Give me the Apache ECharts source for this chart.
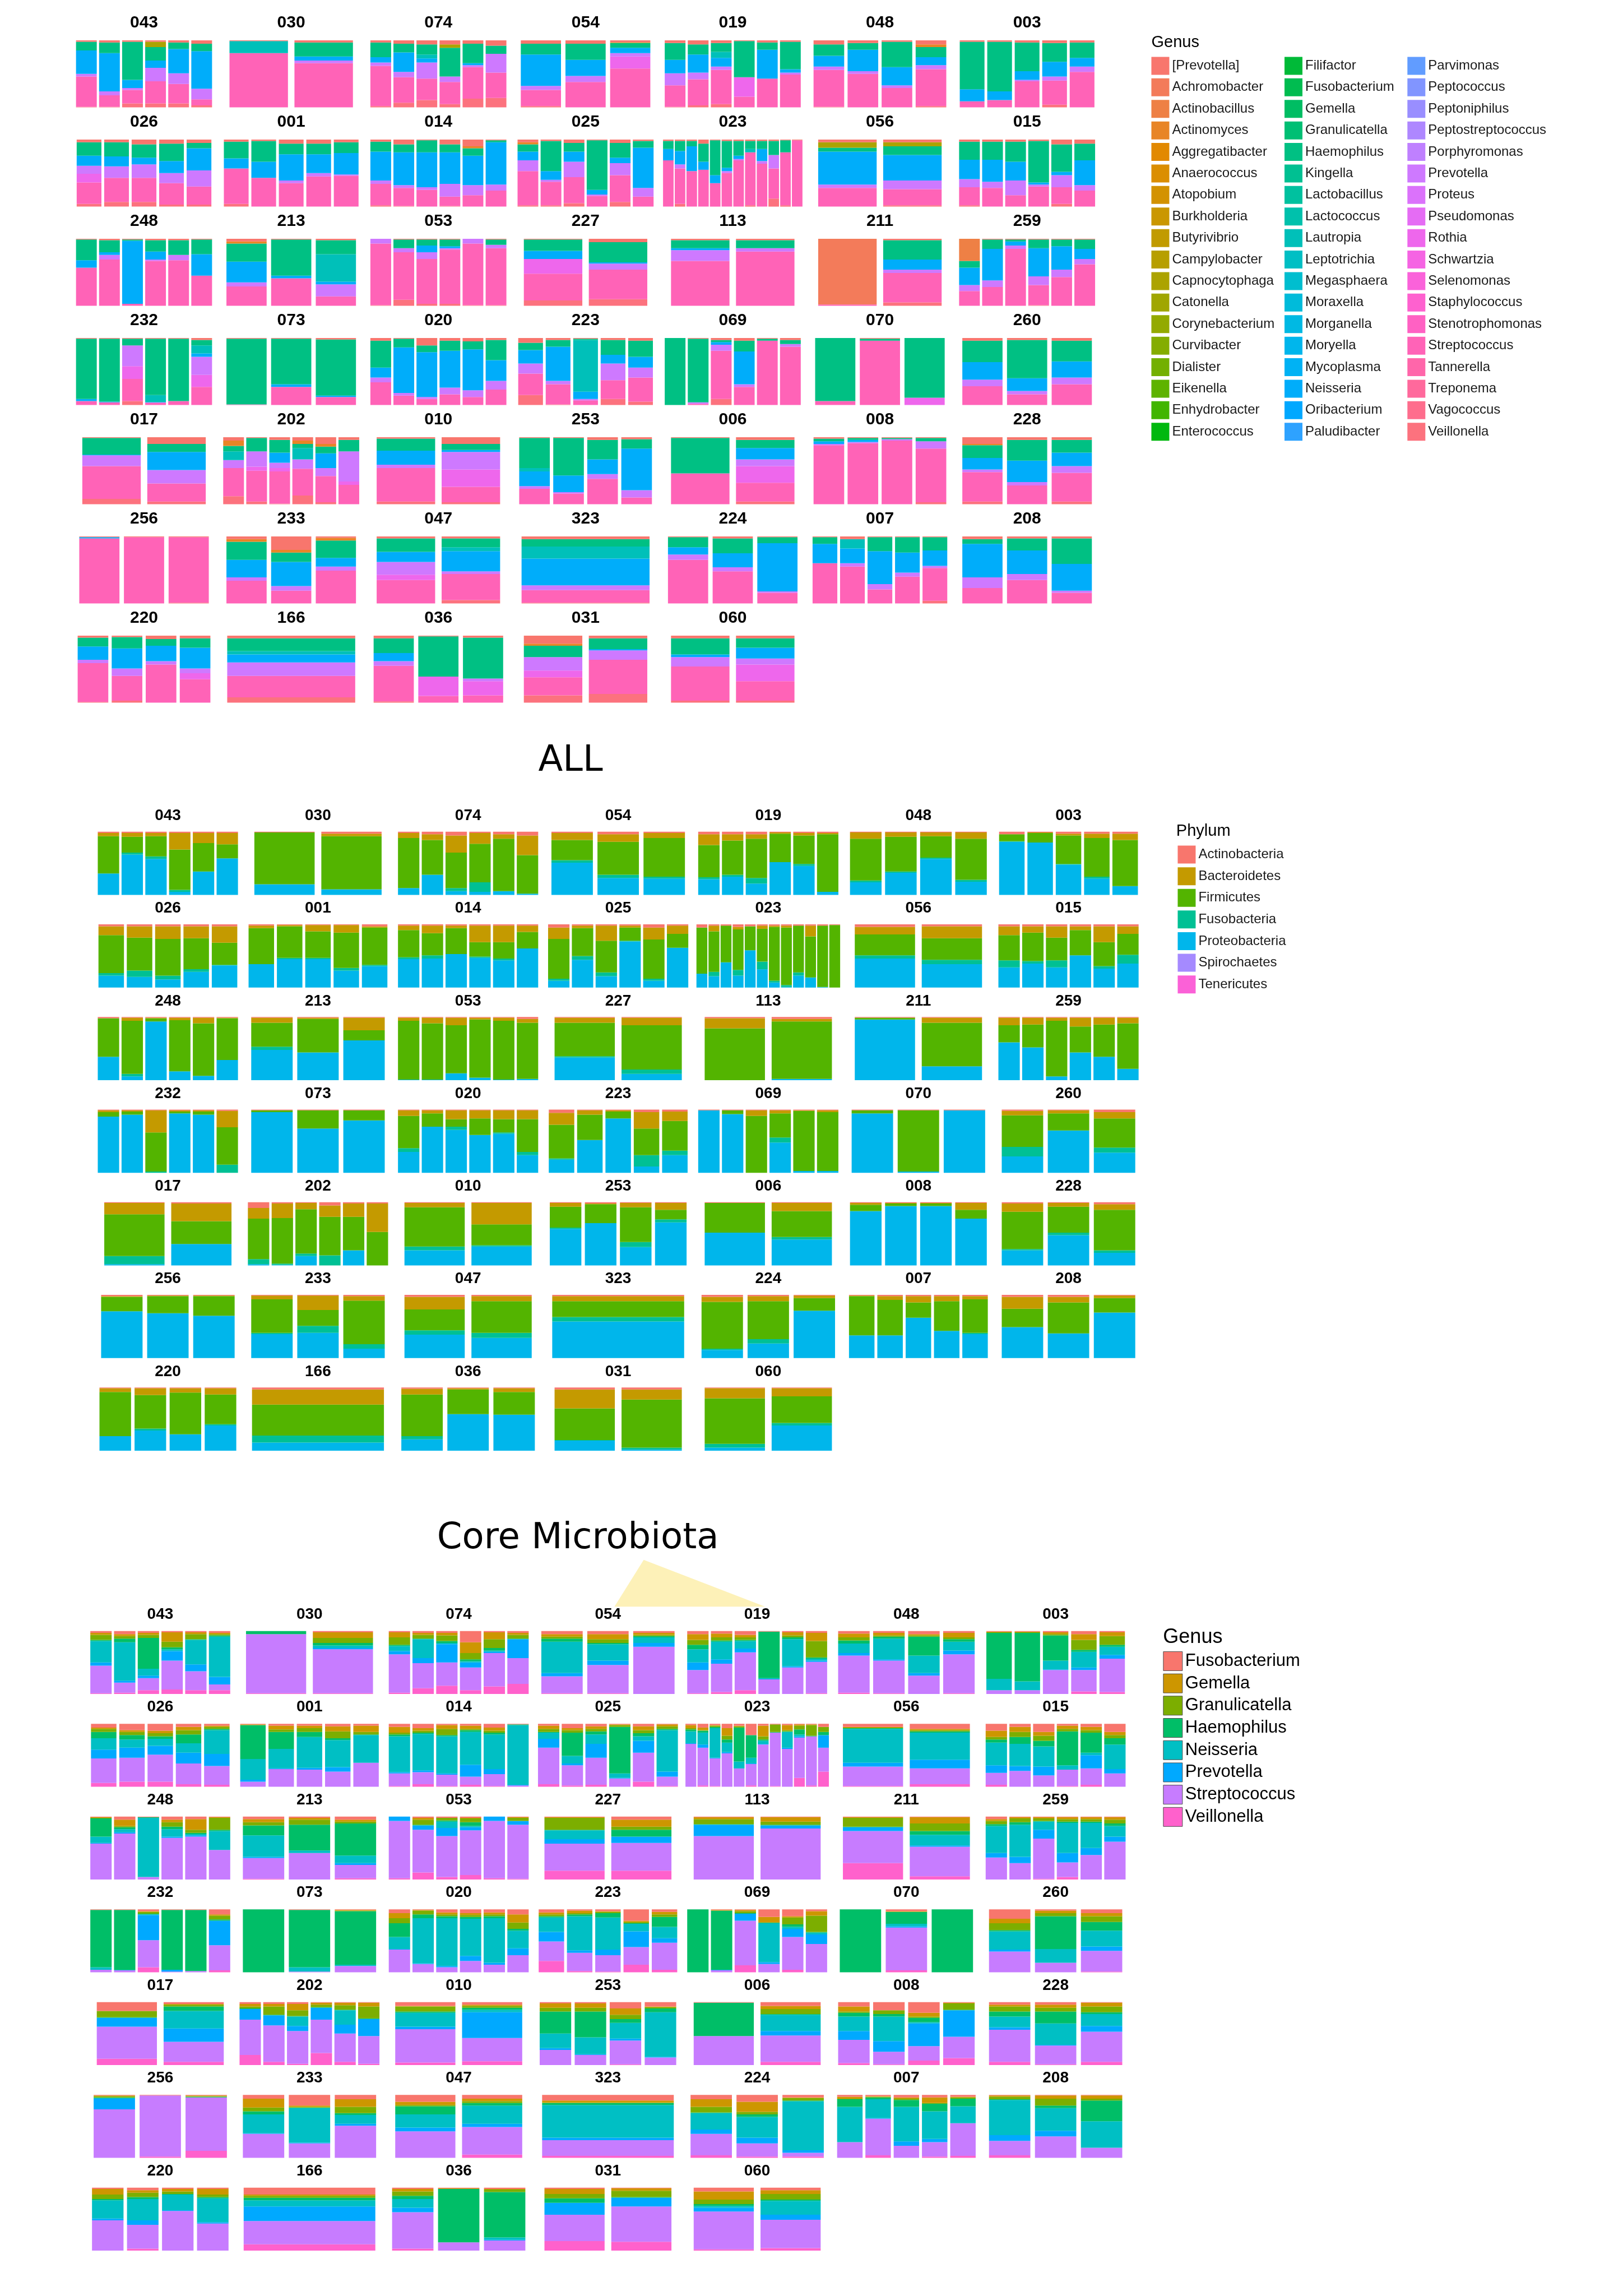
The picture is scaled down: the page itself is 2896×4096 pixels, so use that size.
<!DOCTYPE html>
<html><head><meta charset="utf-8">
<script src="https://cdn.jsdelivr.net/npm/echarts@6/dist/echarts.min.js"></script>
<style>html,body{margin:0;padding:0;background:#fff}#c{width:2896px;height:4096px}</style>
</head><body><div id="c"></div>
<script>
// ---------------- DATA ----------------
const FACETS = ['043','030','074','054','019','048','003','026','001','014','025','023','056','015','248','213','053','227','113','211','259','232','073','020','223','069','070','260','017','202','010','253','006','008','228','256','233','047','323','224','007','208','220','166','036','031','060'];

const GENERA = ['[Prevotella]','Achromobacter','Actinobacillus','Actinomyces','Aggregatibacter','Anaerococcus','Atopobium','Burkholderia','Butyrivibrio','Campylobacter','Capnocytophaga','Catonella','Corynebacterium','Curvibacter','Dialister','Eikenella','Enhydrobacter','Enterococcus','Filifactor','Fusobacterium','Gemella','Granulicatella','Haemophilus','Kingella','Lactobacillus','Lactococcus','Lautropia','Leptotrichia','Megasphaera','Moraxella','Morganella','Moryella','Mycoplasma','Neisseria','Oribacterium','Paludibacter','Parvimonas','Peptococcus','Peptoniphilus','Peptostreptococcus','Porphyromonas','Prevotella','Proteus','Pseudomonas','Rothia','Schwartzia','Selenomonas','Staphylococcus','Stenotrophomonas','Streptococcus','Tannerella','Treponema','Vagococcus','Veillonella'];

// short codes used in the genus strings below
const GENUS_CODE_KEYS = ['r','o','C','A','K','H','L','N','V','T','S','E'];
const GENUS_CODE_NAMES = ['[Prevotella]','Actinomyces','Achromobacter','Actinobacillus','Capnocytophaga','Haemophilus','Lautropia','Neisseria','Prevotella','Rothia','Streptococcus','Veillonella'];

// Panel 1 (all genera): bars separated by '|', segments code+percent
const ALL_GENUS_BARS = [
'r2 H13 N35 V4 S45 E1|r3 H16 N57 V6 S17 E1|r2 H57 N12 V3 S20 E6|r2 K8 H20 N11 V20 S33 E6|r3 H10 N36 V16 S29 E6|r5 H11 N56 V16 S9 E3',
'r1 L18 S81|r3 H21 N6 V4 S66',
'r3 H22 N8 V5 S60 E2|r5 H13 N29 V8 S38 E7|r6 H15 L6 N6 V24 S32 E11|r6 K5 H43 V8 S33 E5|r5 H29 N3 V3 S47 E13|r8 H12 V28 S38 E14',
'r5 H16 N47 V6 S24 E2|r5 H24 N24 V9 S38|r3 K1 H7 N8 V5 T18 S58',
'r4 H25 N20 V18 S32 E1|r6 H15 N27 V10 S39 E3|r4 H13 L9 N13 V5 S51 E5|r1 H54 T29 S16|r3 H11 N43 S43|r2 H41 N5 V3 S49',
'r6 H17 N16 V5 S55 E1|r4 H10 N32 V4 S50|r2 H38 N27 V4 S29|r6 o4 H15 N12 V6 S55 E2',
'r2 H71 N18 S9|r2 H74 N13 S11|r3 H43 N13 V2 S39|r4 H28 N22 V6 S36 E4|r3 H23 N13 V8 S53',
'r4 H20 N15 V12 T13 S32 E4|r4 H21 N15 V17 S36 E7|r7 H20 N10 V20 S36 E7|r6 H26 N18 V15 S32 E3|r5 H8 N33 V24 S27 E3',
'r3 H25 N15 S53 E4|r2 H31 N24 S43|r6 H16 N39 V4 S35|r6 H16 N28 V5 S45|r4 H16 N32 V2 S46',
'r3 H15 N43 V5 S32 E2|r7 H12 N49 V4 S27 E1|r1 H18 N52 V4 S25|r7 H12 N47 V19 S14 E1|r10 o3 H11 N44 V15 S17|r1 H3 N63 V9 S24',
'r4 o3 H11 N13 V16 S51 E2|r2 H45 N13 V3 S35 E2|r5 H13 N15 V23 S39 E5|r1 H74 N7 V2 S16|r5 H22 N8 V18 S40 E7|r2 H10 N60 V13 S15',
'r2 H12 N17 S69|r2 H15 N20 V6 S53 E4|r2 H8 N37 S53|r6 H27 N12 S55|r1 H52 N12 S35|r2 H40 N5 V3 S50|r2 H22 N5 V2 S69|r2 H12 L5 S79 E2|r2 H12 N18 V4 S64|r2 H21 V20 S45 E12|r1 H18 S79 E2|r1 S99',
'r4 K8 H6 N49 V5 S28|r4 K6 H13 N38 V13 S24 E2',
'r3 H27 N29 V12 S27 E2|r3 H27 N33 V9 S28|r3 H30 N28 V22 S17|r2 H62 N3 V3 S30|r7 H41 N5 V18 S25 E4|r6 H25 N37 V8 S24',
'r1 H31 N11 S57|r2 H18 N4 V7 S69|r1 H2 N94 S3|r2 H17 N12 V2 S67|r2 H22 V8 S68|r1 H22 N32 S45',
'r4 o3 H27 N31 V6 S29|r1 H54 N4 S41|r2 H21 L41 N4 V18 S14',
'V7 S92 E1|r1 H13 V6 S71 E9|r1 H9 N10 V10 S67 E3|r1 H10 N3 V2 S81 E3|V7 S92 E1|r1 H8 V5 S85 E1',
'r1 H17 N12 T22 S40 E8|r5 H30 N2 V9 S44 E10',
'r2 H12 N3 V16 S67|r2 H12 V5 S81',
'C98 S2|r2 H29 N15 V5 S44 E5',
'A33 H10 N26 V9 S22|r1 H14 N47 V10 S28|r1 H3 N6 V5 S85|r1 H13 N42 V13 S30 E1|r1 H10 N35 V11 S43|r1 H14 N15 V8 S62',
'r1 H90 N3 S6|r1 H94 N1 S4|r1 H10 V31 T19 S33 E6|r1 H84 L11 V1 S3|r1 H93 S6|r3 H8 L12 N5 V27 T18 S27',
'r1 H98 S1|r1 H68 N4 S27|r2 H84 N2 S12',
'r4 H40 N15 V7 S34|r1 H13 N68 V4 S14|r11 H10 N67 V3 S9|r4 H15 N55 V10 S16|r5 H12 N61 V10 S12|r3 H30 N31 V13 S23',
'r7 H11 N20 V15 S32 E15|r3 H10 N51 V5 S30 E1|r1 H2 L77 N11 V2 S7|r3 H22 N13 V25 S28 E9|r4 H24 N16 V15 S36 E5',
'H100|r1 H95 V2 S2|r3 H3 N4 V9 S72 E9|r4 H16 N49 V4 S27|r1 H3 S96|r3 H6 V4 S87',
'H94 S6|r1 H3 S96|H89 T11',
'r4 H32 N26 V10 S28|r3 H57 N19 V5 S16|r4 H31 N24 V10 S31',
'r1 H25 N1 V16 S49 E8|r10 H12 N27 V20 S27 E4',
'r5 o8 H8 L13 V12 S42 E12|r1 H20 V23 T6 S46 E4|r4 H19 N15 V8 T5 S48 E1|r5 o5 H6 L17 V14 S40 E13|r10 o4 H10 N22 V12 S39 E3|r4 H17 V45 T5 S29',
'r2 H18 N21 V5 S50 E4|r10 H9 N3 V26 T26 S23 E3',
'r1 H45 L5 N22 V4 S23|r1 H56 N25 V2 S16|r4 H29 N22 V7 S38|r3 H14 N62 V11 S10',
'r1 H53 S46|r4 H12 N17 V10 T25 S28 E4',
'r2 H4 N4 V2 S88|r1 H3 N3 V2 S91|r1 H2 V2 S95|r1 H5 V11 S80 E3',
'r10 o2 H19 N17 V4 S44 E4|r4 H31 N32 V5 S28|r4 H19 N20 V10 S43 E4',
'r1 N2 S97|r1 S99|r1 S98 E1',
'r4 o4 H27 N26 V5 S34|r20 o4 H14 N36 V7 S19|r2 o4 H26 N13 V6 S49',
'r3 H20 N15 V19 T8 S35|r3 H13 L6 N30 V4 S39 E5',
'r4 H11 L18 N40 V7 S19 E1',
'r1 H15 N11 V8 S65|r3 H22 N21 V6 S48|r1 H9 N72 V2 S16',
'r1 H10 N29 S60|r4 L14 N22 V5 S55|r1 H21 N49 V8 S21|r1 H23 N30 V6 S40|r1 H20 N23 V3 S49 E4',
'r4 H7 N50 V16 S23|r3 H18 N35 V9 S35|r3 H38 N40 V3 S16',
'r3 H13 N20 V5 S58 E1|r2 H17 N30 V11 S37 E3|r5 H10 N23 V5 S57|r4 H14 N31 V7 T9 S35',
'r4 H19 L5 N12 V20 S32 E8',
'r4 H22 N12 V7 S53 E2|r1 H60 T29 S10|r3 H61 V4 T21 S11',
'r12 o3 H17 V20 T10 S27 E11|r4 H16 N2 V14 S51 E13',
'r4 H24 N4 V14 S51 E3|r4 H14 N16 V9 T25 S29 E3'
];

const PHYLA = ['Actinobacteria','Bacteroidetes','Firmicutes','Fusobacteria','Proteobacteria','Spirochaetes','Tenericutes'];
// Panel 2: per bar percentages of Actinobacteria Bacteroidetes Firmicutes Fusobacteria Proteobacteria
const PHYLUM_BARS = [
'2 5 59 0 34|2 6 25 3 64|2 5 32 4 57|2 26 64 3 5|2 16 45 0 37|2 18 22 0 58',
'1 0 82 0 17|3 4 84 0 9',
'2 8 79 0 11|4 9 55 0 32|6 27 56 5 6|2 17 61 15 5|4 7 83 0 6|6 31 61 0 2',
'2 11 32 4 51|4 12 52 5 27|2 8 61 3 26',
'4 17 51 3 25|4 10 54 3 29|4 7 62 9 18|1 2 45 0 52|2 4 45 3 46|2 2 91 0 5',
'1 10 66 3 20|1 7 55 2 35|1 6 34 2 57|1 10 65 3 21',
'4 0 11 1 84|1 1 15 0 83|3 3 45 1 48|3 7 61 3 26|3 10 73 0 14',
'3 14 60 4 19|3 18 52 10 17|3 20 58 6 13|3 19 49 4 25|3 26 35 1 35',
'2 4 57 0 37|1 2 50 2 45|1 10 42 2 45|1 12 56 4 27|3 2 59 2 34',
'2 7 43 3 45|2 12 35 5 46|2 4 41 0 53|2 26 23 2 47|2 26 26 3 43|2 10 26 0 62',
'5 18 63 3 11|2 4 44 6 44|2 24 50 6 18|2 3 21 1 73|5 19 62 3 11|2 13 22 0 63',
'5 0 73 0 22|2 9 64 7 18|2 0 58 0 40|4 4 64 9 19|3 0 38 0 59|2 5 52 12 29|2 2 85 3 8|2 3 91 3 1|2 0 74 5 19|2 17 65 0 16|2 0 97 0 1|1 0 99 0 0',
'4 12 33 5 46|3 19 34 7 37',
'3 14 40 11 32|3 10 45 4 38|3 18 36 11 32|3 6 40 0 51|3 25 38 4 30|3 12 33 14 38',
'2 0 61 0 37|1 5 84 4 6|1 1 5 0 93|1 4 81 0 14|1 9 83 0 7|1 1 66 0 32',
'1 8 38 5 48|1 2 53 0 44|1 20 16 0 63',
'1 5 93 0 1|1 9 89 0 1|1 12 76 0 11|1 3 92 0 4|1 5 93 0 1|3 6 89 0 2',
'1 8 53 2 36|1 12 70 7 10',
'2 16 82 0 0|3 4 91 0 2',
'1 0 3 0 96|1 8 69 0 22',
'1 12 27 0 60|1 11 36 0 52|1 5 88 0 6|1 14 41 0 44|1 11 51 0 37|1 9 72 0 18',
'1 3 7 0 89|1 2 5 0 92|1 35 62 2 0|1 2 3 0 94|1 2 5 0 92|2 26 59 13 0',
'1 0 3 0 96|1 0 29 0 70|1 0 16 0 83',
'1 9 51 6 33|1 5 21 0 73|1 14 12 5 68|1 13 26 0 60|1 14 21 2 62|1 14 52 5 28',
'5 19 53 2 21|1 7 40 0 52|1 2 11 0 86|4 26 42 18 10|3 15 47 7 28',
'1 0 0 0 99|1 0 6 0 93|1 9 90 0 0|1 5 38 8 48|1 1 95 0 3|1 3 93 0 3',
'1 0 5 0 94|1 0 97 0 2|1 0 0 0 99',
'2 7 50 15 26|1 5 27 0 67|4 10 46 8 32',
'1 18 66 13 2|2 28 36 0 34',
'9 17 64 8 2|2 23 72 2 1|1 10 70 4 15|5 18 61 16 0|2 21 53 0 24|2 45 53 0 0',
'1 7 62 6 24|1 34 33 2 30',
'1 6 33 2 58|2 1 30 0 67|1 7 55 8 29|1 11 15 5 68',
'1 0 47 0 52|1 13 41 4 41',
'1 3 10 0 86|1 1 4 0 94|1 1 4 0 94|1 11 14 0 74',
'2 13 59 2 24|1 6 41 4 48|3 9 64 4 20',
'2 1 23 0 74|1 1 27 0 71|1 1 31 0 67',
'1 6 53 2 38|1 23 25 11 40|2 7 69 7 15',
'3 20 33 7 37|2 8 50 8 32',
'2 8 25 7 58',
'3 8 74 2 13|2 8 60 7 23|1 4 20 0 75',
'1 1 62 0 36|2 6 56 0 36|2 10 24 0 64|2 8 47 0 43|2 5 53 2 38',
'3 19 29 0 49|3 9 49 0 39|1 4 23 0 72',
'1 6 70 0 23|1 11 53 3 32|1 7 66 0 26|1 10 47 2 40',
'3 24 49 11 13',
'2 9 66 5 18|1 2 39 0 58|1 6 36 0 57',
'3 30 50 1 16|3 16 76 3 2',
'1 16 72 6 5|1 13 42 4 40'
];

const CORE = ['Fusobacterium','Gemella','Granulicatella','Haemophilus','Neisseria','Prevotella','Streptococcus','Veillonella'];
// Panel 3: per bar percentages in CORE order
const CORE_BARS = [
'3 3 8 2 34 5 44 1|5 3 4 6 61 3 16 2|3 3 5 49 11 4 19 6|2 15 9 3 3 15 46 7|2 3 8 1 39 11 30 6|3 2 2 2 64 12 9 6',
'0 0 0 5 0 0 94 1|2 9 8 4 4 2 70 1',
'2 8 12 2 8 5 61 2|3 3 6 1 30 8 40 9|3 4 9 3 2 29 37 13|18 17 10 3 2 8 36 6|2 11 14 4 2 2 53 12|3 3 6 1 0 30 41 16',
'5 4 3 5 50 5 27 1|5 8 6 2 26 7 45 1|3 3 2 2 9 6 75 0',
'5 9 8 7 21 12 37 1|4 6 5 2 28 7 45 3|6 4 4 2 12 6 60 6|1 0 0 74 1 1 23 0|2 5 3 3 43 2 42 0|3 13 26 2 3 2 50 1',
'4 6 5 5 15 4 59 2|3 4 2 3 33 2 52 1|5 2 2 30 28 4 29 0|3 7 3 4 14 6 62 1',
'1 1 1 73 18 0 6 0|1 1 1 77 14 0 6 0|2 3 2 40 14 1 38 0|5 9 16 3 25 4 34 4|2 6 14 3 13 6 53 3',
'6 2 5 10 18 14 39 6|10 3 5 7 13 16 38 8|11 4 5 4 11 14 43 8|5 5 7 14 15 17 33 4|3 2 3 2 38 19 30 3',
'1 1 0 54 33 3 8 0|3 6 4 27 31 1 28 0|3 4 6 8 49 3 27 0|4 8 11 3 43 7 24 0|3 10 4 1 44 0 38 0',
'5 9 3 3 57 2 20 1|7 4 3 2 58 3 19 4|2 6 10 2 59 2 18 1|3 5 2 3 52 19 13 3|6 5 3 3 55 8 19 1|1 0 0 1 95 1 2 0',
'3 5 5 1 10 14 58 4|7 3 4 37 12 3 32 2|4 4 4 5 15 22 43 3|1 1 3 74 7 1 13 0|4 6 5 5 7 19 46 8|1 3 4 2 66 8 15 1',
'2 5 2 3 19 1 68 0|6 4 1 3 19 5 60 2|2 1 2 2 47 1 44 1|7 12 6 5 15 2 53 0|3 1 2 54 11 0 29 0|18 0 0 36 9 1 34 2|3 17 5 2 5 1 67 0|1 0 12 1 0 0 85 1|2 8 2 1 25 2 60 0|1 2 6 8 3 2 64 14|1 1 17 1 0 0 78 2|5 0 8 5 0 20 38 24',
'5 1 1 1 54 6 31 1|8 2 2 2 43 14 25 4',
'11 10 4 5 36 12 19 3|5 8 8 11 35 8 25 0|13 6 8 9 32 14 18 0|3 5 4 54 7 0 26 1|5 5 4 32 4 21 26 3|13 5 5 10 39 7 21 0',
'1 1 1 29 10 1 57 0|5 10 2 3 5 2 73 0|1 0 0 1 94 0 4 0|5 4 7 4 12 2 66 0|4 17 5 2 2 2 68 0|1 1 19 2 30 0 47 0',
'4 5 5 16 34 2 33 1|2 3 8 41 4 0 42 0|5 3 3 51 12 3 21 2',
'0 0 0 0 0 7 91 2|2 3 8 1 0 7 68 11|2 0 4 2 10 13 65 4|2 1 6 6 2 5 71 7|0 0 0 0 0 7 91 2|1 1 5 0 0 6 86 1',
'1 1 19 1 14 7 43 14|5 11 5 11 0 10 44 14',
'1 3 8 1 0 18 69 0|1 7 5 1 0 5 81 0',
'1 1 14 1 0 6 51 26|1 10 12 6 17 2 47 5',
'4 3 5 3 43 7 35 0|1 2 6 4 51 10 26 0|1 2 4 1 13 14 64 1|1 3 4 2 48 15 23 4|1 3 4 2 40 11 39 0|1 4 6 4 17 8 60 0',
'1 0 0 91 4 0 4 0|1 0 0 95 1 0 3 0|3 1 3 1 1 40 43 8|1 0 0 95 0 3 1 0|1 0 0 97 0 0 2 0|8 2 6 2 0 39 40 3',
'0 0 0 100 0 0 0 0|1 0 0 91 7 0 1 0|1 1 1 85 2 0 10 0',
'6 8 8 22 19 1 36 0|1 1 6 6 72 1 13 0|5 3 3 3 76 2 8 0|6 3 3 3 59 8 18 0|5 3 3 3 71 3 12 0|8 13 10 3 28 11 27 0',
'5 3 3 2 23 15 31 18|2 4 2 3 54 4 29 2|3 1 2 7 51 9 26 1|18 2 2 1 12 25 28 12|4 4 4 16 18 7 43 4',
'0 0 0 100 0 0 0 0|1 1 0 94 0 1 3 0|1 2 3 1 0 11 71 11|12 9 0 1 62 3 13 0|11 2 11 4 3 13 52 4|3 7 26 1 3 15 45 0',
'0 0 0 100 0 0 0 0|3 1 0 19 4 2 68 3|0 0 0 100 0 0 0 0',
'15 7 11 2 29 3 33 0|2 4 5 52 22 0 15 0|6 5 9 14 25 7 33 1',
'14 0 10 1 0 14 51 10|3 1 3 7 28 21 32 5',
'3 4 3 1 0 17 56 16|3 4 13 1 0 16 58 5|3 10 9 1 15 8 52 2|1 3 4 1 0 19 53 19|1 4 7 1 23 14 45 5|1 6 19 1 0 27 44 2',
'6 1 8 2 22 4 53 4|4 2 3 3 4 41 37 6',
'2 7 6 35 23 3 24 0|2 7 6 41 27 1 16 0|10 10 7 6 25 3 38 1|7 1 2 6 71 1 12 0',
'1 0 0 53 0 0 46 0|6 5 8 1 26 7 42 5',
'7 8 2 6 23 14 37 3|13 0 6 4 39 17 20 1|17 6 2 7 2 36 23 7|1 1 10 1 0 42 34 11',
'4 3 8 8 17 4 51 5|4 5 6 19 34 1 30 1|1 6 9 3 19 9 48 5',
'1 1 2 1 1 17 77 0|1 0 0 0 0 0 97 2|1 1 1 1 0 0 85 11',
'6 14 6 5 30 1 38 0|17 2 1 1 55 1 23 0|7 12 10 3 14 3 51 0',
'11 5 2 13 21 6 42 0|6 4 3 4 29 5 44 5',
'9 3 1 3 52 4 25 3',
'7 12 9 1 26 7 34 4|11 16 4 4 33 9 21 2|4 1 4 1 78 4 6 2',
'3 3 1 12 56 0 25 0|2 1 1 3 30 1 58 4|4 2 2 11 55 7 19 0|4 9 1 12 44 5 23 2|3 1 2 12 27 0 52 3',
'1 2 4 1 56 9 23 4|1 5 11 4 36 9 34 0|1 5 3 33 42 0 16 0',
'2 9 7 2 29 3 48 0|4 4 7 3 34 7 38 3|2 4 4 1 25 1 63 0|2 9 4 2 38 2 43 0',
'11 2 3 4 10 23 37 10',
'2 4 7 5 14 7 58 3|1 1 0 85 0 0 13 0|2 1 4 72 4 1 16 0',
'2 8 7 7 0 19 42 15|1 4 10 1 0 14 56 14',
'6 13 7 3 3 6 60 2|4 6 9 2 22 8 45 4'
];

// ---------------- STYLE / LAYOUT ----------------
const S = 2.6105; // layout measured in preview units -> page px
const LAY = [
  {x0:49.6, dx:100.6, w:97.7,  y0:27.6,   dy:67.8, h:45.8, lab:12.1, fs:30},
  {x0:64.4, dx:102.6, w:100.7, y0:568.4,  dy:63.3, h:43.2, lab:10.9, fs:28},
  {x0:59.3, dx:102.0, w:100.5, y0:1114.6, dy:63.4, h:43.0, lab:11.3, fs:28}
];

function hcl(h, c, l) {
  const hr = h * Math.PI / 180;
  const U = c * Math.cos(hr), V = c * Math.sin(hr);
  const Y = l > 7.999592 ? Math.pow((l + 16) / 116, 3) : l / 903.3;
  const u = U / (13 * l) + 0.1978398, v = V / (13 * l) + 0.4683363;
  const X = 9 * Y * u / (4 * v), Z = -X / 3 - 5 * Y + 3 * Y / v;
  const g = t => { t = t > 0.00304 ? 1.055 * Math.pow(t, 1 / 2.4) - 0.055 : 12.92 * t; return Math.round(255 * Math.max(0, Math.min(1, t))); };
  const r = g(3.240479 * X - 1.537150 * Y - 0.498535 * Z);
  const gg = g(-0.969256 * X + 1.875992 * Y + 0.041556 * Z);
  const b = g(0.055648 * X - 0.204043 * Y + 1.057311 * Z);
  return '#' + [r, gg, b].map(x => x.toString(16).padStart(2, '0')).join('');
}
const huePal = n => Array.from({length: n}, (_, i) => hcl(15 + 360 * i / n, 100, 65));
const GENUS_COLORS = huePal(GENERA.length);
const PHYLA_COLORS = huePal(PHYLA.length);
const CORE_COLORS = huePal(CORE.length);

const option = {animation: false, backgroundColor: '#ffffff', grid: [], xAxis: [], yAxis: [], series: [], legend: [], graphic: {elements: []}};
const TXT = '"Liberation Sans", Arial, sans-serif';

function facetGrid(p, i, nb) {
  const L = LAY[p], col = i % 7, row = Math.floor(i / 7);
  // single-sample facets are drawn nearly panel-wide in the reference
  const unit = nb === 1 ? L.w * 0.995 : L.w / (nb + 0.2);
  const px = L.x0 + col * L.dx, py = L.y0 + row * L.dy;
  const gl = px + (L.w - nb * unit) / 2;
  const k = option.grid.length;
  option.grid.push({left: gl * S, top: py * S, width: nb * unit * S, height: L.h * S, containLabel: false, outerBoundsMode: 'none'});
  option.xAxis.push({type: 'category', gridIndex: k, show: false, boundaryGap: true, data: Array.from({length: nb}, (_, j) => String(j + 1))});
  option.yAxis.push({type: 'value', gridIndex: k, show: false, min: 0, max: 100});
  option.graphic.elements.push({type: 'text', silent: true, x: (px + L.w / 2) * S, y: (py - L.lab) * S,
    style: {text: FACETS[i], fontSize: L.fs, fontWeight: 'bold', fontFamily: TXT, fill: '#000', align: 'center', verticalAlign: 'middle'}});
  return k;
}
function addSeries(k, name, color, data) {
  option.series.push({type: 'bar', name: name, xAxisIndex: k, yAxisIndex: k, stack: 's' + k, data: data,
    barWidth: '90%', itemStyle: {color: color}, silent: true, emphasis: {disabled: true}});
}

// Panel 1
let first1 = -1;
FACETS.forEach((f, i) => {
  const bars = ALL_GENUS_BARS[i].split('|').map(b => {
    const m = {};
    b.split(' ').forEach(t => { m[t[0]] = +t.slice(1); });
    return m;
  });
  const k = facetGrid(0, i, bars.length);
  if (first1 < 0) {
    first1 = k;
    GENERA.forEach((g, gi) => addSeries(k, g + '#1', GENUS_COLORS[gi], []));
  }
  const codes = GENUS_CODE_KEYS.filter(c => bars.some(b => c in b));
  codes.sort((a, b) => GENERA.indexOf(GENUS_CODE_NAMES[GENUS_CODE_KEYS.indexOf(b)]) - GENERA.indexOf(GENUS_CODE_NAMES[GENUS_CODE_KEYS.indexOf(a)]));
  codes.forEach(c => {
    const name = GENUS_CODE_NAMES[GENUS_CODE_KEYS.indexOf(c)];
    addSeries(k, name + '#1', GENUS_COLORS[GENERA.indexOf(name)], bars.map(b => b[c] || 0));
  });
});

// Panel 2
let first2 = -1;
FACETS.forEach((f, i) => {
  const bars = PHYLUM_BARS[i].split('|').map(b => b.split(' ').map(Number));
  const k = facetGrid(1, i, bars.length);
  if (first2 < 0) {
    first2 = k;
    addSeries(k, PHYLA[6] + '#2', PHYLA_COLORS[6], []);
    addSeries(k, PHYLA[5] + '#2', PHYLA_COLORS[5], []);
  }
  for (let j = 4; j >= 0; j--) addSeries(k, PHYLA[j] + '#2', PHYLA_COLORS[j], bars.map(b => b[j]));
});

// Panel 3
FACETS.forEach((f, i) => {
  const bars = CORE_BARS[i].split('|').map(b => b.split(' ').map(Number));
  const k = facetGrid(2, i, bars.length);
  for (let j = CORE.length - 1; j >= 0; j--) addSeries(k, CORE[j] + '#3', CORE_COLORS[j], bars.map(b => b[j]));
});

// Legends
const strip = n => n.split('#')[0];
function legend(names, left, top, size, gap, fs, color, border) {
  option.legend.push({orient: 'vertical', left: left, top: top, padding: 0, itemWidth: size, itemHeight: size, itemGap: gap,
    icon: 'rect', selectedMode: false, formatter: strip, data: names,
    itemStyle: border ? {borderColor: '#4d4d4d', borderWidth: 1} : {borderWidth: 0},
    textStyle: {fontSize: fs, color: color, fontFamily: TXT}});
}
const colX = [787, 878, 962];
for (let c = 0; c < 3; c++) legend(GENERA.slice(c * 18, c * 18 + 18).map(g => g + '#1'), colX[c] * S, 45 * S - 16, 32, 6.4, 24, '#1a1a1a', false);
legend(PHYLA.map(g => g + '#2'), 805 * S, 584 * S - 16, 32, 6.6, 24, '#1a1a1a', false);
legend(CORE.map(g => g + '#3'), 795 * S, 1135 * S - 17, 34, 4.7, 31, '#000', true);

// Titles and legend titles
const G = option.graphic.elements;
G.unshift({type: 'polygon', silent: true, shape: {points: [[440 * S, 1066 * S], [420 * S, 1098 * S], [523 * S, 1098 * S]]}, style: {fill: '#FDF1B8'}});
function text(t, x, y, fs, align, family) {
  G.push({type: 'text', silent: true, x: x, y: y, style: {text: t, fontSize: fs, fontFamily: family || TXT, fill: '#000', align: align, verticalAlign: 'middle'}});
}
text('ALL', 390 * S, 520.5 * S, 64, 'center', '"DejaVu Sans", Verdana, sans-serif');
text('Core Microbiota', 395 * S, 1051.5 * S, 64, 'center', '"DejaVu Sans", Verdana, sans-serif');
text('Genus', 787 * S, 29 * S, 29, 'left');
text('Phylum', 804 * S, 568 * S, 29, 'left');
text('Genus', 795 * S, 1119 * S, 36, 'left');

const chart = echarts.init(document.getElementById('c'), null, {renderer: 'canvas'});
chart.setOption(option);
</script>
</body></html>
